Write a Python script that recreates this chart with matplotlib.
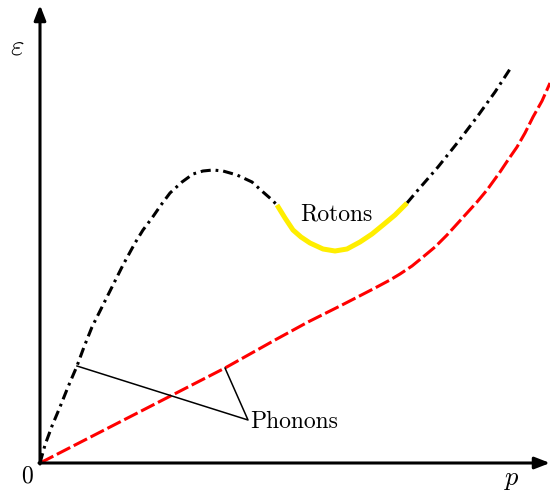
import matplotlib
matplotlib.use('Agg')
import matplotlib.pyplot as plt

plt.rcParams['mathtext.fontset'] = 'cm'
plt.rcParams['font.family'] = 'cmr10'
plt.rcParams['axes.formatter.use_mathtext'] = True

# Landau spectrum (p, epsilon) in arbitrary units
p_black1 = [0, 5, 12, 20, 28, 37, 44, 52, 62, 72, 83, 95, 103, 112, 121,
            130, 142, 153, 163, 173, 183, 197, 212, 223, 231, 237]
e_black1 = [0, 18, 37, 56, 76, 97, 116, 136, 156, 176, 198, 220, 233, 245, 258,
            270, 281, 289, 292, 293, 292, 288, 281, 271, 264, 258]

p_roton = [237, 245, 253, 261, 270, 283, 295, 307, 320, 332, 343, 355, 367]
e_roton = [258, 245, 233, 226, 220, 214, 212, 214, 221, 229, 238, 248, 260]

p_black2 = [367, 378, 398, 418, 437, 455, 472]
e_black2 = [260, 273, 296, 321, 346, 371, 397]

# red dashed (critical velocity line)
p_red = [0, 185, 235, 268, 302, 335, 350, 360, 372, 383, 395, 407, 417, 427,
         437, 447, 460, 468, 477, 485, 493, 502, 510]
e_red = [0, 95, 123, 141, 158, 175, 183, 189, 197, 206, 216, 228, 239, 250,
         261, 273, 291, 303, 316, 330, 346, 362, 380]

fig = plt.figure(figsize=(5.5, 4.96), dpi=100)
ax = fig.add_axes([0, 0, 1, 1])
ax.set_xlim(-40, 510)
ax.set_ylim(-33, 463)
ax.axis('off')

# axes with arrows
arrow = dict(arrowstyle='-|>,head_length=0.9,head_width=0.35', lw=2.2,
             color='black', shrinkA=0, shrinkB=0)
ax.annotate('', xy=(510, 0), xytext=(-1, 0), arrowprops=arrow)
ax.annotate('', xy=(0, 458), xytext=(0, -1), arrowprops=arrow)

ax.plot(p_red, e_red, color='red', lw=2.2, linestyle=(0, (4.9, 1.3)),
        dash_capstyle='butt')
ax.plot(p_black1, e_black1, color='black', lw=2.2,
        linestyle=(0, (3.3, 1.6, 0.9, 1.6)))
ax.plot(p_black2, e_black2, color='black', lw=2.2,
        linestyle=(0, (3.3, 1.6, 0.9, 1.6)))
ax.plot(p_roton, e_roton, color='#ffee00', lw=3.6, solid_capstyle='butt')

# phonon label with pointer lines
ax.plot([37, 208, 185], [97, 43, 95], color='black', lw=1.1)
ax.text(210, 41, 'Phonons', fontsize=17, va='center', ha='left')
ax.text(260, 249, 'Rotons', fontsize=17, va='center', ha='left')

ax.text(-13, -13, '0', fontsize=17, va='center', ha='center')
ax.text(-23, 416, r'$\varepsilon$', fontsize=21, va='center', ha='center')
ax.text(472, -17, r'$p$', fontsize=19, va='center', ha='center')

plt.savefig('out.png', dpi=100)
